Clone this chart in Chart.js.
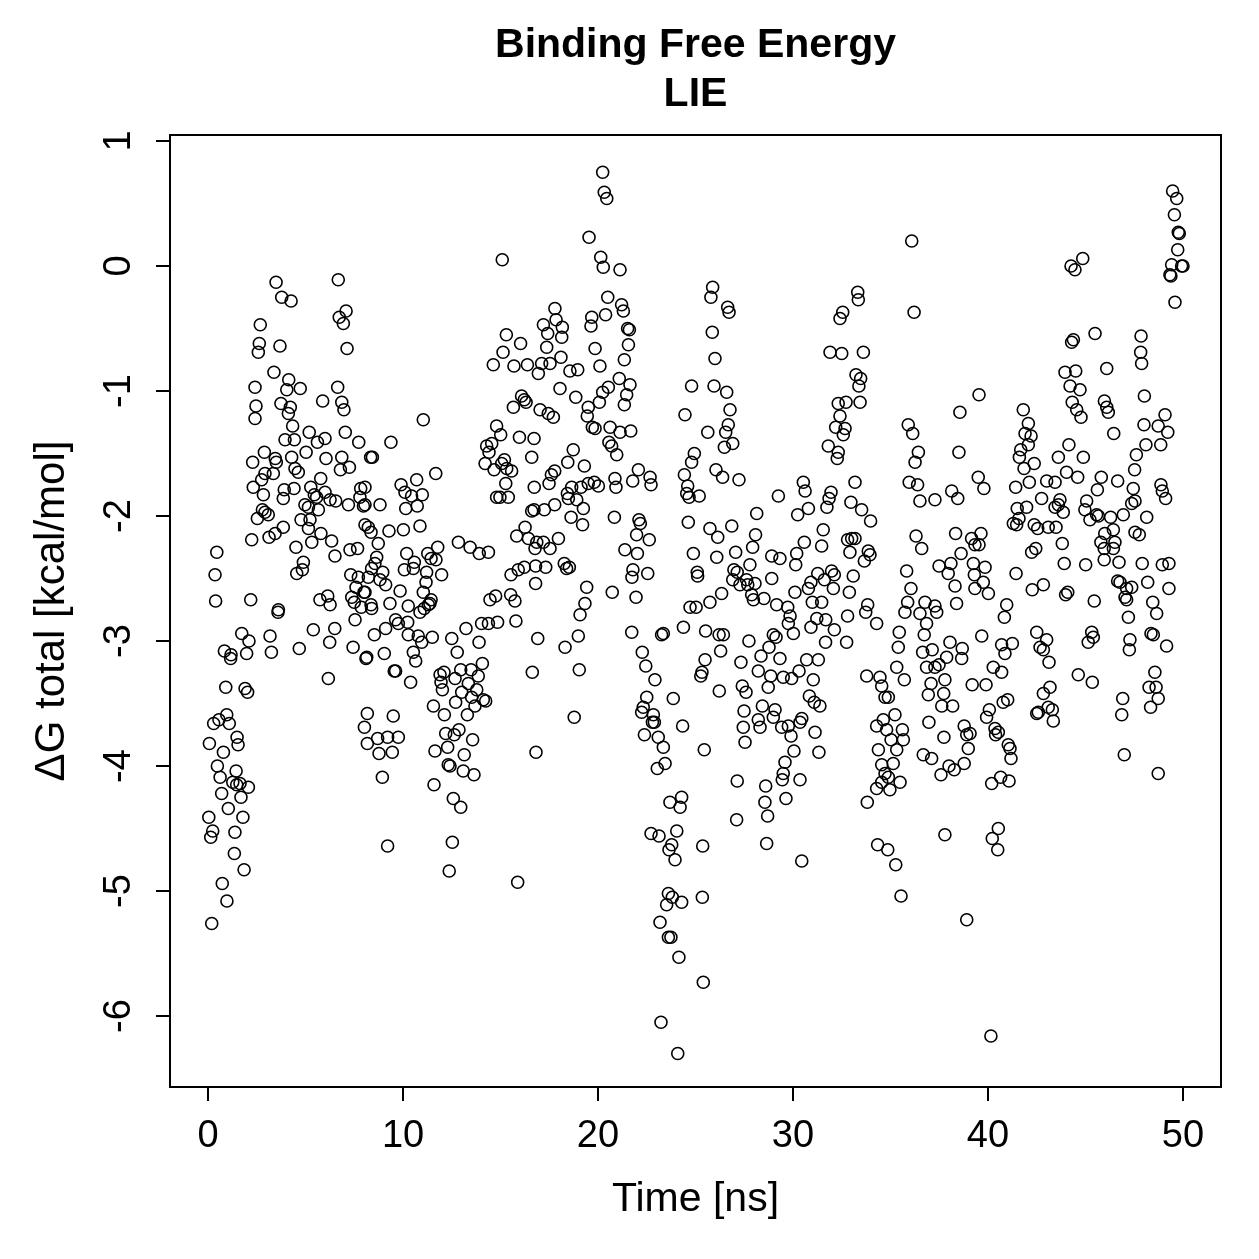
<!DOCTYPE html>
<html>
<head>
<meta charset="utf-8">
<title>Binding Free Energy - LIE</title>
<script src="https://cdn.jsdelivr.net/npm/chart.js@4.4.1/dist/chart.umd.min.js"></script>
<style>
  html, body { margin: 0; padding: 0; background: #fff; }
  #lie-graph { display: block; }
</style>
</head>
<body>
<canvas id="lie-graph" width="1259" height="1259"></canvas>
<script>
const lieGraph = document.querySelector("#lie-graph");

const chartTitle = ["Binding Free Energy", "LIE"];
const xLabel = "Time [ns]";
const yLabel = "\u0394G total [kcal/mol]";
const xTicks = [0, 10, 20, 30, 40, 50];
const yTicks = [1, 0, -1, -2, -3, -4, -5, -6];

// [time (ns), dG total (kcal/mol)]
const samples = [
  [3.49,-0.13],[3.78,-0.25],[4.26,-0.28],[6.68,-0.11],[7.08,-0.36],[6.73,-0.41],[6.94,-0.46],[7.13,-0.66],
  [2.68,-0.47],[2.63,-0.62],[2.58,-0.69],[3.69,-0.64],[3.38,-0.85],[4.14,-0.91],[4.04,-0.99],[4.73,-0.98],
  [2.41,-0.97],[2.46,-1.12],[2.41,-1.22],[3.74,-1.10],[4.22,-1.13],[4.12,-1.18],[5.88,-1.08],[6.65,-0.97],
  [6.86,-1.09],[6.97,-1.15],[4.34,-1.28],[3.95,-1.39],[4.43,-1.39],[5.19,-1.33],[5.61,-1.41],[6.00,-1.38],
  [7.04,-1.33],[7.73,-1.41],[8.34,-1.53],[2.89,-1.49],[2.29,-1.57],[3.45,-1.54],[3.50,-1.57],[4.29,-1.53],
  [5.03,-1.49],[6.05,-1.54],[6.86,-1.53],[6.79,-1.63],[7.25,-1.61],[2.92,-1.66],[2.75,-1.71],[3.35,-1.66],
  [4.46,-1.62],[4.63,-1.65],[2.32,-1.77],[2.84,-1.83],[3.91,-1.79],[4.41,-1.78],[3.86,-1.86],[5.78,-1.70],
  [5.27,-1.77],[5.45,-1.83],[5.57,-1.85],[6.00,-1.81],[6.26,-1.87],[6.55,-1.88],[7.20,-1.91],[7.83,-1.78],
  [7.79,-1.85],[7.97,-1.92],[4.97,-1.91],[5.15,-1.93],[5.66,-1.95],[2.79,-1.95],[2.92,-1.97],[3.09,-1.99],
  [2.53,-2.02],[4.77,-2.03],[5.23,-2.03],[5.15,-2.10],[8.05,-2.07],[3.86,-2.09],[3.44,-2.14],[3.13,-2.17],
  [2.24,-2.19],[5.79,-2.14],[5.32,-2.21],[6.34,-2.20],[6.51,-2.32],[4.51,-2.25],[7.28,-2.27],[7.67,-2.26],
  [4.89,-2.37],[4.84,-2.43],[4.55,-2.46],[7.32,-2.47],[7.71,-2.49],[7.59,-2.57],[8.00,-2.61],[0.45,-2.29],
  [0.36,-2.47],[0.39,-2.68],[2.19,-2.67],[3.61,-2.75],[5.74,-2.67],[6.14,-2.64],[6.26,-2.71],[7.37,-2.65],
  [7.50,-2.69],
  [3.59,-2.77],[1.73,-2.94],[2.10,-3.00],[0.84,-3.08],[1.18,-3.11],[1.16,-3.14],[1.98,-3.10],[3.18,-2.96],
  [3.25,-3.09],[4.68,-3.06],[5.40,-2.91],[6.50,-2.90],[6.24,-3.01],[7.44,-3.05],[7.54,-2.83],[7.86,-2.73],
  [8.10,-3.14],[6.17,-3.30],[0.91,-3.37],[1.90,-3.38],[2.03,-3.41],[0.96,-3.59],[0.56,-3.63],[0.29,-3.66],
  [1.09,-3.66],[1.49,-3.77],[1.54,-3.83],[0.07,-3.82],[0.79,-3.89],[0.48,-4.00],[1.44,-4.04],[0.62,-4.09],
  [1.27,-4.13],[1.64,-4.14],[2.07,-4.17],[1.47,-4.15],[0.70,-4.22],[1.69,-4.25],[1.04,-4.34],[0.04,-4.41],
  [1.79,-4.41],[0.24,-4.52],[0.14,-4.57],[1.38,-4.53],[1.35,-4.70],[1.85,-4.83],[0.73,-4.94],[0.97,-5.08],
  [0.19,-5.26],[8.17,-3.58],[8.02,-3.69],[8.17,-3.82],
  [15.09,0.05],[15.30,-0.55],[16.03,-0.62],[15.13,-0.69],[14.63,-0.79],[15.69,-0.80],[16.38,-0.79],[16.94,-0.86],
  [16.08,-1.04],[16.22,-1.07],[16.31,-1.09],[15.66,-1.13],[11.04,-1.23],[14.80,-1.28],[15.01,-1.35],[15.97,-1.37],
  [16.72,-1.38],[16.60,-1.53],[14.29,-1.44],[14.55,-1.42],[14.41,-1.49],[14.21,-1.58],[14.67,-1.63],[15.20,-1.55],
  [15.06,-1.58],[15.32,-1.62],[15.57,-1.64],[15.27,-1.74],[14.80,-1.85],[14.97,-1.85],[15.40,-1.85],[16.73,-1.77],
  [16.60,-1.96],[16.72,-1.95],[16.26,-2.09],[15.83,-2.16],[16.43,-2.18],[16.86,-2.21],[9.38,-1.41],[8.43,-1.53],
  [8.05,-1.77],[8.05,-1.91],[8.82,-1.91],[11.68,-1.66],[9.90,-1.75],[10.10,-1.81],[10.44,-1.84],[10.70,-1.71],
  [10.99,-1.83],[10.14,-1.94],[10.73,-1.92],[10.87,-2.08],[8.22,-2.09],[8.36,-2.13],[9.28,-2.12],[10.02,-2.11],
  [8.73,-2.22],[10.19,-2.30],[8.65,-2.33],[8.56,-2.38],[8.39,-2.42],[8.96,-2.45],[8.22,-2.49],[8.82,-2.51],
  [9.11,-2.55],[10.58,-2.37],[10.53,-2.42],[10.07,-2.43],[11.27,-2.30],[11.78,-2.25],[11.44,-2.34],[11.69,-2.35],
  [11.21,-2.45],[11.98,-2.47],[11.18,-2.53],[11.04,-2.61],[9.85,-2.60],[8.05,-2.61],[11.44,-2.67],[11.30,-2.71],
  [9.33,-2.70],[10.27,-2.72],[8.36,-2.71],[12.84,-2.21],[13.44,-2.25],[13.91,-2.30],[14.38,-2.29],[15.54,-2.47],
  [15.91,-2.43],[16.22,-2.41],[16.80,-2.40],[16.80,-2.54],[14.46,-2.67],[14.75,-2.64],[15.52,-2.63],[15.74,-2.68],
  [8.39,-2.74],[10.87,-2.77],[11.09,-2.74],[11.38,-2.70],[8.53,-2.95],[9.11,-2.90],[9.62,-2.83],[9.76,-2.86],
  [10.24,-2.85],[10.27,-2.95],[10.78,-2.96],[10.96,-3.01],[11.50,-2.97],[8.14,-3.13],[9.04,-3.10],[10.53,-3.09],
  [10.65,-3.16],[9.55,-3.24],[9.62,-3.24],[10.39,-3.33],[12.50,-2.98],[13.23,-2.90],[13.90,-3.01],[14.03,-2.86],
  [14.38,-2.86],[14.85,-2.85],[15.79,-2.84],[12.78,-3.09],[14.07,-3.18],[16.63,-3.25],[16.91,-2.98],[11.90,-3.27],
  [12.10,-3.25],[11.95,-3.33],[12.02,-3.39],[12.67,-3.30],[12.96,-3.23],[13.49,-3.23],[13.86,-3.28],[13.35,-3.34],
  [13.78,-3.39],[13.01,-3.41],[13.52,-3.45],[14.12,-3.47],[14.24,-3.48],[11.56,-3.52],[12.70,-3.49],[13.69,-3.52],
  [12.12,-3.59],[13.30,-3.59],[9.50,-3.60],[8.70,-3.78],[9.21,-3.77],[9.76,-3.77],[8.77,-3.90],[9.45,-3.89],
  [12.19,-3.74],[12.87,-3.71],[12.63,-3.75],[13.57,-3.79],[11.64,-3.88],[12.29,-3.85],[13.14,-3.91],[12.32,-3.99],
  [12.41,-4.00],[13.09,-4.04],[13.64,-4.07],[8.94,-4.09],[11.59,-4.15],[12.58,-4.26],[12.96,-4.33],[9.21,-4.64],
  [12.53,-4.61],[12.37,-4.84],[15.88,-4.93],[16.82,-3.89],
  [20.24,0.75],[20.32,0.59],[20.45,0.54],[19.54,0.23],[20.14,0.07],[20.27,-0.01],[21.13,-0.03],[20.50,-0.25],
  [21.21,-0.31],[21.30,-0.36],[20.39,-0.39],[19.68,-0.41],[19.64,-0.48],[17.79,-0.34],[17.85,-0.43],[17.20,-0.47],
  [18.17,-0.49],[17.42,-0.54],[18.14,-0.57],[21.52,-0.50],[21.61,-0.51],[17.37,-0.65],[21.56,-0.63],[19.85,-0.66],
  [18.10,-0.73],[17.54,-0.78],[17.11,-0.78],[18.56,-0.84],[18.96,-0.83],[20.10,-0.80],[21.35,-0.75],[21.09,-0.90],
  [18.05,-0.98],[18.86,-1.05],[20.53,-0.97],[20.24,-1.01],[21.64,-0.95],[21.47,-1.03],[21.35,-1.11],[20.07,-1.09],
  [19.50,-1.13],[19.45,-1.20],[17.03,-1.15],[17.45,-1.18],[17.71,-1.21],[19.71,-1.29],[19.85,-1.30],[20.62,-1.29],
  [21.13,-1.33],[21.68,-1.32],[20.56,-1.41],[20.70,-1.44],[20.96,-1.51],[18.73,-1.47],[18.45,-1.57],[19.30,-1.60],
  [17.78,-1.64],[17.61,-1.67],[17.49,-1.74],[18.65,-1.77],[19.13,-1.77],[19.50,-1.74],[19.81,-1.73],[20.02,-1.76],
  [20.87,-1.70],[20.92,-1.77],[21.78,-1.72],[22.07,-1.63],[22.67,-1.69],[22.72,-1.75],[18.43,-1.82],[18.48,-1.86],
  [18.91,-1.87],[19.25,-1.94],[17.25,-1.95],[17.78,-1.91],[18.62,-2.01],[19.21,-2.07],[20.84,-2.01],[22.10,-2.03],
  [22.17,-2.06],[21.98,-2.15],[22.63,-2.19],[17.97,-2.18],[17.20,-2.21],[17.54,-2.26],[21.38,-2.27],[22.02,-2.30],
  [16.77,-2.26],[17.32,-2.41],[18.27,-2.38],[18.39,-2.42],[18.53,-2.41],[21.79,-2.43],[21.74,-2.49],[22.55,-2.46],
  [19.42,-2.57],[19.33,-2.70],[20.73,-2.61],[21.95,-2.65],[24.80,-0.96],[24.46,-1.19],[24.94,-1.50],[24.80,-1.57],
  [24.43,-1.67],[24.60,-1.76],[24.67,-1.85],[24.55,-1.82],[25.19,-1.84],[24.63,-2.05],[24.89,-2.30],[25.09,-2.45],
  [25.11,-2.48],[24.72,-2.73],
  [19.08,-2.79],[18.31,-3.05],[18.99,-2.96],[19.04,-3.23],[18.78,-3.61],[21.73,-2.93],[23.35,-2.94],[23.26,-2.95],
  [24.38,-2.89],[25.03,-2.73],[25.52,-2.92],[22.27,-3.09],[22.45,-3.20],[22.92,-3.31],[23.86,-3.46],[22.50,-3.45],
  [22.32,-3.53],[22.24,-3.57],[22.84,-3.59],[22.89,-3.65],[22.79,-3.65],[24.34,-3.68],[22.38,-3.75],[23.09,-3.77],
  [23.35,-3.85],[23.44,-3.98],[23.04,-4.02],[25.49,-3.15],[25.33,-3.25],[25.27,-3.28],[25.45,-3.87],[24.29,-4.25],
  [23.69,-4.29],[24.21,-4.33],[22.72,-4.54],[23.13,-4.56],[24.04,-4.52],[23.78,-4.63],[23.64,-4.67],[23.95,-4.75],
  [25.37,-4.64],[23.61,-5.02],[23.81,-5.05],[24.29,-5.09],[23.52,-5.11],[23.18,-5.25],[23.61,-5.37],[23.74,-5.37],
  [24.15,-5.53],[25.35,-5.05],[25.40,-5.73],[23.23,-6.05],[24.09,-6.30],
  [25.88,-0.17],[25.79,-0.25],[26.65,-0.33],[26.72,-0.37],[25.86,-0.53],[26.00,-0.74],[25.95,-0.96],[26.60,-1.01],
  [26.77,-1.15],[26.68,-1.27],[26.55,-1.33],[25.63,-1.33],[26.48,-1.45],[26.91,-1.42],[26.05,-1.63],[26.39,-1.69],
  [27.23,-1.71],[33.32,-0.21],[33.35,-0.27],[32.55,-0.37],[32.41,-0.42],[31.90,-0.69],[32.50,-0.70],[33.61,-0.69],
  [33.23,-0.87],[33.47,-0.90],[33.38,-0.96],[32.32,-1.10],[32.72,-1.09],[33.44,-1.09],[32.41,-1.20],[32.19,-1.29],
  [32.67,-1.30],[32.58,-1.35],[31.81,-1.44],[32.32,-1.49],[32.27,-1.54],[29.25,-1.84],[30.53,-1.73],[30.62,-1.80],
  [33.18,-1.73],[31.95,-1.81],[31.85,-1.86],[31.74,-1.93],[30.79,-1.94],[30.24,-1.99],[32.97,-1.89],[33.52,-1.95],
  [33.98,-2.04],[28.14,-1.98],[26.86,-2.08],[25.74,-2.10],[26.14,-2.17],[28.08,-2.15],[27.93,-2.25],[31.55,-2.11],
  [31.47,-2.24],[30.58,-2.21],[32.80,-2.19],[33.01,-2.18],[33.18,-2.18],[32.92,-2.29],[33.86,-2.28],[33.66,-2.36],
  [33.95,-2.31],[27.06,-2.29],[26.09,-2.33],[28.91,-2.32],[29.33,-2.34],[30.19,-2.30],[30.14,-2.39],[27.79,-2.39],
  [26.97,-2.43],[27.14,-2.45],[26.91,-2.51],[27.28,-2.55],[27.62,-2.51],[27.68,-2.55],[28.05,-2.54],[27.88,-2.63],
  [27.97,-2.67],[28.51,-2.66],[28.91,-2.50],[26.34,-2.62],[25.74,-2.69],[29.16,-2.71],[29.73,-2.73],[30.10,-2.61],
  [30.79,-2.58],[30.92,-2.53],[31.27,-2.46],[31.61,-2.51],[31.98,-2.44],[32.12,-2.47],[32.07,-2.58],[31.47,-2.69],
  [30.99,-2.69],[33.09,-2.48],[32.89,-2.61],[33.83,-2.71],
  [29.85,-2.80],[29.76,-2.86],[30.02,-2.94],[31.22,-2.82],[31.68,-2.83],[30.92,-2.89],[32.12,-2.91],[32.80,-2.80],
  [33.73,-2.77],[31.67,-3.01],[32.75,-3.01],[26.21,-2.95],[26.43,-2.95],[26.29,-3.08],[26.22,-3.40],[27.74,-3.00],
  [27.33,-3.17],[28.99,-2.95],[29.13,-2.97],[28.77,-3.05],[28.36,-3.12],[29.33,-3.14],[28.22,-3.24],[28.86,-3.28],
  [29.50,-3.29],[29.93,-3.30],[30.31,-3.24],[30.70,-3.15],[31.30,-3.15],[31.04,-3.31],[28.73,-3.37],[27.40,-3.36],
  [27.59,-3.41],[30.84,-3.44],[31.09,-3.49],[31.38,-3.52],[28.43,-3.52],[29.08,-3.55],[27.49,-3.56],[28.22,-3.63],
  [28.31,-3.69],[28.99,-3.61],[29.42,-3.69],[29.76,-3.68],[30.45,-3.62],[30.36,-3.65],[27.45,-3.69],[29.90,-3.76],
  [31.13,-3.73],[27.54,-3.81],[30.05,-3.88],[31.33,-3.89],[29.59,-3.97],[29.50,-4.06],[29.45,-4.11],[30.36,-4.11],
  [27.14,-4.12],[28.60,-4.16],[29.64,-4.26],[28.56,-4.29],[28.70,-4.40],[27.11,-4.43],[28.65,-4.62],[30.45,-4.76],
  [33.78,-3.28],[33.81,-4.29],
  [36.09,0.20],[36.21,-0.37],[39.54,-1.03],[41.81,-1.15],[38.56,-1.17],[35.91,-1.27],[36.14,-1.34],[42.07,-1.26],
  [41.90,-1.34],[42.21,-1.36],[41.68,-1.47],[42.07,-1.43],[41.61,-1.53],[41.85,-1.62],[42.37,-1.58],[36.43,-1.49],
  [36.26,-1.57],[38.51,-1.49],[35.96,-1.73],[36.39,-1.75],[36.51,-1.88],[37.28,-1.87],[38.14,-1.80],[38.45,-1.86],
  [39.50,-1.69],[39.79,-1.78],[41.42,-1.77],[42.12,-1.73],[42.75,-1.86],[41.98,-1.93],[41.50,-1.94],[41.59,-2.02],
  [41.30,-2.06],[41.47,-2.07],[42.37,-2.07],[42.55,-2.10],[42.24,-2.29],[42.45,-2.26],[36.31,-2.16],[36.60,-2.26],
  [38.34,-2.14],[38.62,-2.30],[39.16,-2.18],[39.64,-2.14],[39.33,-2.23],[39.54,-2.23],[35.83,-2.44],[37.49,-2.40],
  [38.10,-2.38],[37.96,-2.46],[39.25,-2.38],[39.85,-2.41],[39.30,-2.47],[39.76,-2.53],[39.33,-2.58],[40.02,-2.62],
  [38.31,-2.56],[38.39,-2.70],[36.05,-2.58],[35.88,-2.69],[36.77,-2.69],[37.28,-2.72],[41.44,-2.46],[40.96,-2.71],
  [42.27,-2.59],[42.84,-2.55],
  [35.74,-2.77],[36.51,-2.78],[37.37,-2.77],[36.85,-2.86],[40.84,-2.81],[34.29,-2.86],[35.45,-2.93],[35.40,-3.05],
  [36.73,-2.95],[36.65,-3.09],[37.14,-3.07],[38.05,-3.01],[38.68,-3.06],[38.65,-3.14],[37.88,-3.13],[39.68,-2.96],
  [40.70,-3.03],[41.25,-3.02],[40.87,-3.10],[42.50,-2.93],[42.67,-3.05],[42.84,-3.07],[43.01,-2.99],[35.32,-3.21],
  [35.71,-3.31],[34.46,-3.29],[34.55,-3.36],[34.72,-3.45],[34.89,-3.45],[36.85,-3.21],[37.28,-3.21],[37.49,-3.19],
  [37.08,-3.34],[36.94,-3.43],[37.79,-3.31],[37.73,-3.42],[37.63,-3.52],[38.19,-3.52],[39.19,-3.35],[39.90,-3.35],
  [40.27,-3.21],[40.70,-3.25],[40.78,-3.49],[41.01,-3.47],[40.07,-3.55],[39.93,-3.61],[42.84,-3.42],[42.58,-3.57],
  [43.09,-3.53],[35.23,-3.59],[34.63,-3.63],[34.29,-3.68],[34.80,-3.71],[35.61,-3.71],[35.66,-3.79],[35.03,-3.79],
  [34.38,-3.87],[35.32,-3.87],[35.14,-3.98],[34.55,-3.99],[34.72,-4.06],[34.89,-4.09],[35.49,-4.13],[34.55,-4.13],
  [34.97,-4.19],[34.29,-4.18],[36.97,-3.65],[37.74,-3.77],[36.68,-3.91],[37.11,-3.94],[37.59,-4.07],[38.00,-4.00],
  [38.27,-4.03],[38.78,-3.98],[38.99,-3.86],[39.08,-3.74],[38.78,-3.68],[38.91,-3.75],[40.36,-3.70],[40.53,-3.73],
  [40.39,-3.75],[41.04,-3.83],[41.13,-3.86],[41.18,-3.94],[40.19,-4.14],[40.65,-4.09],[41.08,-4.12],[42.50,-3.58],
  [40.53,-4.50],[40.22,-4.58],[40.50,-4.67],[37.79,-4.55],[34.34,-4.63],[34.86,-4.67],[35.27,-4.79],[35.54,-5.04],
  [38.91,-5.23],[40.15,-6.16],
  [49.47,0.60],[49.68,0.54],[49.56,0.41],[49.76,0.27],[49.81,0.26],[49.73,0.13],[49.42,0.01],[49.93,0.00],
  [50.00,0.00],[49.33,-0.07],[49.38,-0.08],[49.59,-0.29],[44.26,0.00],[44.46,-0.03],[44.86,0.06],[44.38,-0.59],
  [44.29,-0.61],[45.49,-0.54],[47.85,-0.56],[47.83,-0.69],[47.88,-0.78],[46.09,-0.82],[43.95,-0.85],[44.50,-0.84],
  [44.21,-0.96],[44.72,-0.99],[44.32,-1.09],[44.55,-1.15],[44.77,-1.21],[45.97,-1.08],[46.09,-1.13],[46.17,-1.17],
  [48.02,-1.04],[49.08,-1.19],[48.00,-1.27],[48.73,-1.28],[49.22,-1.33],[46.45,-1.34],[48.10,-1.43],[48.86,-1.43],
  [44.15,-1.43],[43.61,-1.53],[44.89,-1.53],[47.61,-1.51],[47.52,-1.63],[44.03,-1.65],[44.60,-1.69],[43.44,-1.73],
  [43.01,-1.72],[45.81,-1.69],[46.65,-1.72],[45.61,-1.79],[47.45,-1.78],[47.54,-1.88],[47.37,-1.90],[48.87,-1.75],
  [48.94,-1.80],[49.11,-1.86],[43.69,-1.87],[43.61,-1.91],[43.44,-1.93],[43.86,-1.97],[45.06,-1.88],[44.97,-1.95],
  [45.23,-2.03],[45.57,-1.99],[45.66,-2.00],[46.29,-2.01],[46.94,-1.99],[48.14,-2.01],[43.09,-2.09],[43.49,-2.09],
  [45.99,-2.14],[46.43,-2.11],[47.54,-2.13],[47.76,-2.15],[45.79,-2.21],[46.51,-2.21],[45.96,-2.26],[46.43,-2.26],
  [43.81,-2.22],[45.96,-2.35],[46.72,-2.37],[43.91,-2.38],[45.01,-2.39],[47.91,-2.38],[48.94,-2.39],[49.28,-2.38],
  [46.65,-2.52],[46.77,-2.53],[47.37,-2.57],[47.11,-2.58],[48.19,-2.53],[49.28,-2.58],[44.09,-2.61],[43.98,-2.63],
  [45.45,-2.68],[47.03,-2.65],[47.11,-2.67],[48.45,-2.69],
  [47.20,-2.81],[48.65,-2.78],[43.13,-3.17],[45.32,-2.93],[45.40,-2.97],[45.14,-3.01],[47.28,-2.99],[47.25,-3.07],
  [48.36,-2.94],[48.48,-2.95],[49.16,-3.04],[44.63,-3.27],[45.35,-3.33],[43.18,-3.37],[43.30,-3.55],[43.35,-3.64],
  [46.91,-3.46],[46.86,-3.59],[48.56,-3.25],[48.26,-3.37],[48.62,-3.37],[48.73,-3.46],[48.34,-3.53],[46.99,-3.91],
  [48.73,-4.06]
];

const fontFamily = "'Liberation Sans', Arial, Helvetica, sans-serif";

// base-graphics style frame: box, outward ticks, labels, titles
const rFrame = {
  id: "rFrame",
  afterDraw(chart) {
    const { ctx, chartArea, scales } = chart;
    const { left, right, top, bottom } = chartArea;
    const tickLen = 14;
    ctx.save();
    ctx.strokeStyle = "#000";
    ctx.fillStyle = "#000";
    ctx.lineWidth = 2;
    ctx.strokeRect(left, top, right - left, bottom - top);

    ctx.font = `38px ${fontFamily}`;
    ctx.textAlign = "center";
    ctx.textBaseline = "middle";
    xTicks.forEach((v) => {
      const px = scales.x.getPixelForValue(v);
      ctx.beginPath();
      ctx.moveTo(px, bottom);
      ctx.lineTo(px, bottom + tickLen);
      ctx.stroke();
      ctx.fillText(String(v), px, bottom + 50);
    });

    yTicks.forEach((v) => {
      const py = scales.y.getPixelForValue(v);
      ctx.beginPath();
      ctx.moveTo(left, py);
      ctx.lineTo(left - tickLen, py);
      ctx.stroke();
      ctx.save();
      ctx.translate(left - 50, py);
      ctx.rotate(-Math.PI / 2);
      ctx.fillText(String(v), 0, 0);
      ctx.restore();
    });

    const midX = (left + right) / 2;
    const midY = (top + bottom) / 2;
    ctx.font = `41px ${fontFamily}`;
    ctx.fillText(xLabel, midX, 1200);
    ctx.save();
    ctx.translate(52, midY);
    ctx.rotate(-Math.PI / 2);
    ctx.font = `42px ${fontFamily}`;
    ctx.fillText(yLabel, 0, 0);
    ctx.restore();

    ctx.font = `bold 41px ${fontFamily}`;
    ctx.fillText(chartTitle[0], midX, 46);
    ctx.fillText(chartTitle[1], midX, 95);
    ctx.restore();
  },
};

const renderLieGraph = () => {
  const lieData = {
    datasets: [
      {
        data: samples.map((p) => ({ x: p[0], y: p[1] })),
        pointStyle: "circle",
        pointRadius: 6,
        pointHoverRadius: 6,
        borderColor: "#000",
        backgroundColor: "rgba(0,0,0,0)",
        borderWidth: 1.6,
      },
    ],
  };

  new Chart(lieGraph, {
    type: "scatter",
    data: lieData,
    options: {
      responsive: false,
      animation: false,
      events: [],
      layout: { padding: { left: 170, top: 135, right: 38, bottom: 172 } },
      plugins: {
        legend: { display: false },
        tooltip: { enabled: false },
      },
      scales: {
        x: { type: "linear", min: -1.95, max: 51.95, display: false },
        y: { type: "linear", min: -6.568, max: 1.048, display: false },
      },
    },
    plugins: [rFrame],
  });
};

document.addEventListener("DOMContentLoaded", renderLieGraph);
</script>
</body>
</html>
